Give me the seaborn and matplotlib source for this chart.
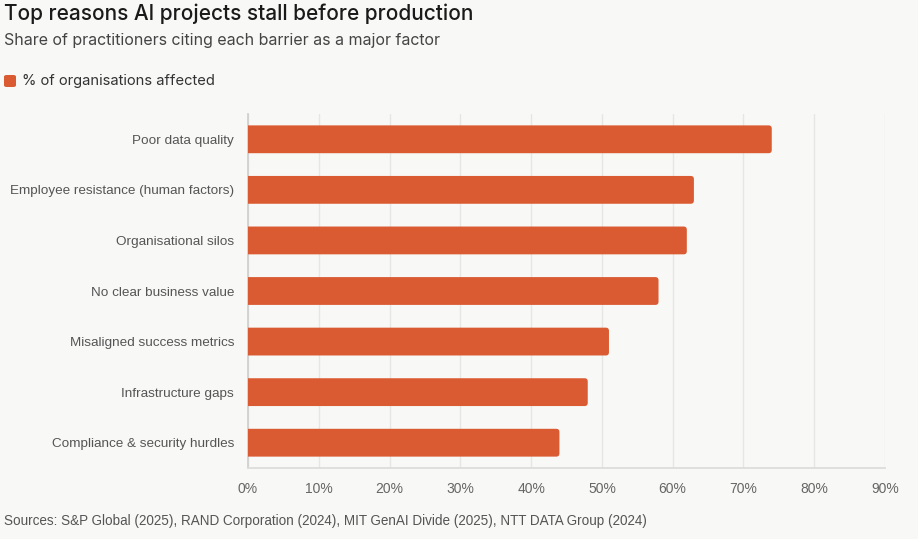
import matplotlib.pyplot as plt
import seaborn as sns
import pandas as pd
from matplotlib.patches import FancyBboxPatch

# data
barriers = [
    "Poor data quality",
    "Employee resistance (human factors)",
    "Organisational silos",
    "No clear business value",
    "Misaligned success metrics",
    "Infrastructure gaps",
    "Compliance & security hurdles",
]
pct_affected = [74, 63, 62, 58, 51, 48, 44]
x_ticks = [0, 10, 20, 30, 40, 50, 60, 70, 80, 90]

bg = "#f8f8f6"
bar_color = "#da5b32"

sns.set_theme(style="white")
plt.rcParams["font.family"] = ["Liberation Sans", "DejaVu Sans"]

df = pd.DataFrame({"barrier": barriers, "pct": pct_affected})

fig = plt.figure(figsize=(9.18, 5.39), dpi=100, facecolor=bg)
ax = fig.add_axes([248 / 918, 1 - 468 / 539, (885 - 248) / 918, (468 - 114) / 539])
ax.set_facecolor(bg)

sns.barplot(data=df, x="pct", y="barrier", color=bar_color, width=0.55,
            saturation=1, ax=ax, zorder=3)

# swap bars for ones with slightly rounded ends
for p in list(ax.patches):
    x0, y0 = p.get_x(), p.get_y()
    w, h = p.get_width(), p.get_height()
    p.set_visible(False)
    fb = FancyBboxPatch((x0 - 2, y0), w + 2, h,
                        boxstyle="round,pad=0,rounding_size=0.45",
                        mutation_aspect=7.08 / 50.7,
                        facecolor=bar_color, edgecolor="none", zorder=3)
    ax.add_patch(fb)

ax.set_xlim(0, 90)
ax.set_ylim(6.5, -0.5)
ax.set_xticks(x_ticks)
ax.set_xticklabels([f"{t}%" for t in x_ticks])
ax.set_xlabel("")
ax.set_ylabel("")
ax.grid(axis="x", color="#e6e6e4", linewidth=1, zorder=0)
for s in ["top", "right"]:
    ax.spines[s].set_visible(False)
ax.spines["bottom"].set_color("#dcdcda")
ax.spines["left"].set_color("#cfcfcd")
ax.tick_params(axis="x", length=4, color="#dcdcda", colors="#666666", labelsize=10, pad=6)
ax.tick_params(axis="y", length=0, colors="#555555", labelsize=9.7, pad=10)
for t in ax.get_xticklabels():
    t.set_color("#666666")

# titles and legend
fig.text(4 / 918, 1 - 14 / 539, "Top reasons AI projects stall before production",
         fontsize=15, color="#1a1a1a", va="center", fontweight="medium",
         family=["Inter", "DejaVu Sans"])
fig.text(4 / 918, 1 - 41 / 539, "Share of practitioners citing each barrier as a major factor",
         fontsize=11.5, color="#444444", va="center", family=["Inter", "DejaVu Sans"])
fig.patches.append(FancyBboxPatch((4 / 918, 1 - 87 / 539), 12 / 918, 12 / 539,
                                  boxstyle="round,pad=0,rounding_size=0.003",
                                  transform=fig.transFigure, facecolor=bar_color,
                                  edgecolor="none"))
fig.text(22 / 918, 1 - 81 / 539, "% of organisations affected",
         fontsize=10.6, color="#333333", va="center", family=["Inter", "DejaVu Sans"])
fig.text(4 / 918, 1 - 521 / 539,
         "Sources: S&P Global (2025), RAND Corporation (2024), MIT GenAI Divide (2025), NTT DATA Group (2024)",
         fontsize=9.75, color="#555555", va="center")

fig.savefig("out.png", dpi=100, facecolor=bg)
